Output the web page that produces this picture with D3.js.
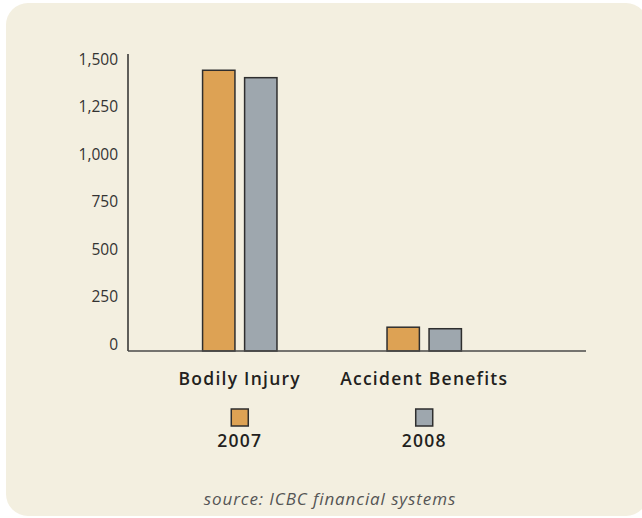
<!DOCTYPE html>
<html>
<head>
<meta charset="utf-8">
<script src="https://cdn.jsdelivr.net/npm/d3@7"></script>
<style>
  html, body { margin: 0; padding: 0; background: #ffffff; }
  svg { display: block; }
</style>
</head>
<body>
<svg id="chart" width="642" height="518"></svg>
<script>
// Claims by coverage type, 2007 vs 2008
const categories = ["Bodily Injury", "Accident Benefits"];
const years = ["2007", "2008"];
const values2007 = [1475, 125];
const values2008 = [1436, 117];
const yTicks = [0, 250, 500, 750, 1000, 1250, 1500];
const colors = ["#dda254", "#9ea7ae"];
const sourceNote = "source: ICBC financial systems";

const svg = d3.select("#chart");

// rounded cream panel
svg.append("rect")
  .attr("x", 6).attr("y", 3)
  .attr("width", 642).attr("height", 513)
  .attr("rx", 22).attr("ry", 22)
  .attr("fill", "#f3efe0");

const plot = { left: 128, right: 586, top: 54, bottom: 351 };

const y = d3.scaleLinear()
  .domain([0, 1500])
  .range([plot.bottom, 65.5]);

const x0 = d3.scalePoint()
  .domain(categories)
  .range([plot.left, 536])
  .padding(0.606);

const x1 = d3.scaleBand()
  .domain(years)
  .range([-37.2, 37.2])
  .paddingInner(0.23);

const series = years.map((yr, i) => ({
  year: yr,
  color: colors[i],
  values: i === 0 ? values2007 : values2008
}));

// bars
const groups = svg.append("g").selectAll("g")
  .data(categories)
  .join("g")
  .attr("transform", d => `translate(${x0(d)},0)`);

groups.selectAll("rect")
  .data((c, ci) => series.map(s => ({ year: s.year, color: s.color, value: s.values[ci] })))
  .join("rect")
  .attr("x", d => x1(d.year))
  .attr("width", x1.bandwidth())
  .attr("y", d => y(d.value))
  .attr("height", d => y(0) - y(d.value))
  .attr("fill", d => d.color)
  .attr("stroke", "#2e2e2e")
  .attr("stroke-width", 1.5);

// y axis
const yAxis = d3.axisLeft(y)
  .tickValues(yTicks)
  .tickSize(0)
  .tickPadding(10)
  .tickFormat(d3.format(","));

const yg = svg.append("g")
  .attr("transform", `translate(${plot.left},0)`)
  .call(yAxis);
yg.select(".domain").remove();
yg.selectAll("text")
  .attr("dy", "-1.5")
  .attr("font-family", "'Open Sans', sans-serif")
  .attr("font-size", 15.5)
  .attr("fill", "#333");

// axis lines
svg.append("line")
  .attr("x1", plot.left).attr("x2", plot.left)
  .attr("y1", plot.top).attr("y2", plot.bottom)
  .attr("stroke", "#2e2e2e").attr("stroke-width", 1.5);
svg.append("line")
  .attr("x1", plot.left).attr("x2", plot.right)
  .attr("y1", plot.bottom).attr("y2", plot.bottom)
  .attr("stroke", "#4a4a4a").attr("stroke-width", 1.5);

// category labels
svg.append("g").selectAll("text")
  .data(categories)
  .join("text")
  .attr("x", d => x0(d))
  .attr("y", 384.5)
  .attr("text-anchor", "middle")
  .attr("font-family", "'Open Sans', sans-serif")
  .attr("font-weight", 600)
  .attr("font-size", 17.5)
  .attr("letter-spacing", 1.25)
  .attr("fill", "#231f20")
  .text(d => d);

// legend: one swatch per year, under each category
const legend = svg.append("g").selectAll("g")
  .data(series)
  .join("g")
  .attr("transform", (d, i) => `translate(${x0(categories[i])},0)`);

legend.append("rect")
  .attr("x", -8.5).attr("y", 409)
  .attr("width", 17).attr("height", 17)
  .attr("fill", d => d.color)
  .attr("stroke", "#2e2e2e")
  .attr("stroke-width", 1.5);

legend.append("text")
  .attr("x", 0).attr("y", 447)
  .attr("text-anchor", "middle")
  .attr("font-family", "'Open Sans', sans-serif")
  .attr("font-weight", 600)
  .attr("font-size", 17.5)
  .attr("letter-spacing", 1.2)
  .attr("fill", "#231f20")
  .text(d => d.year);

// source note
svg.append("text")
  .attr("x", 330).attr("y", 505)
  .attr("text-anchor", "middle")
  .attr("font-family", "'Open Sans', sans-serif")
  .attr("font-style", "italic")
  .attr("font-size", 17)
  .attr("letter-spacing", 0.9)
  .attr("fill", "#555")
  .text(sourceNote);
</script>
</body>
</html>
